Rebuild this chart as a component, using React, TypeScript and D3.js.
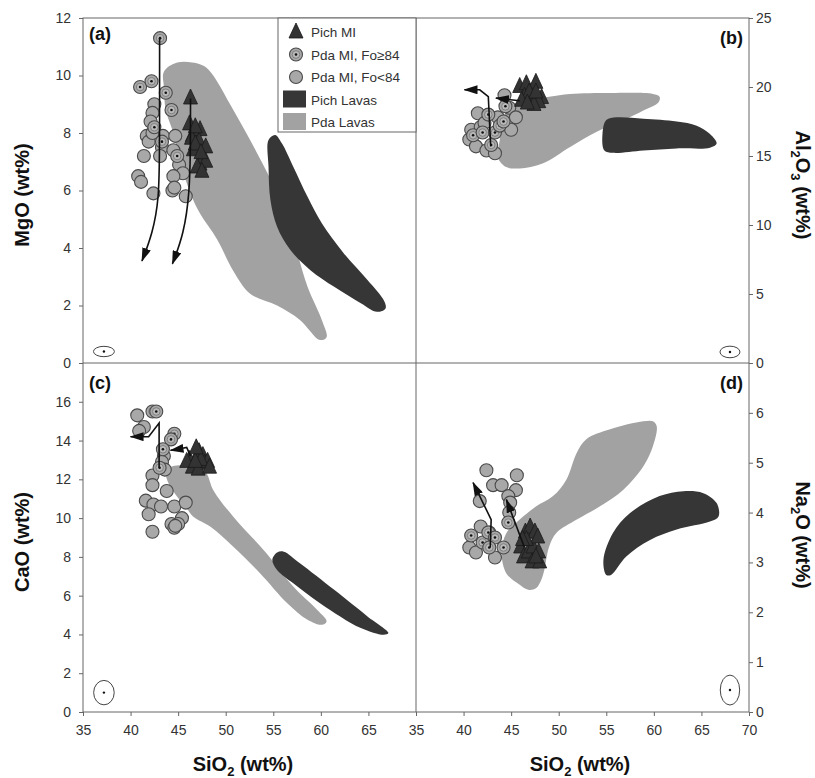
import React, { useRef, useEffect } from "react";
import * as d3 from "d3";

type Pt = [number, number];

// ---- tick values ----
const sioTicksLeft = [35, 40, 45, 50, 55, 60, 65];
const sioTicksRight = [35, 40, 45, 50, 55, 60, 65, 70];
const mgoTicks = [0, 2, 4, 6, 8, 10, 12];
const alTicks = [0, 5, 10, 15, 20, 25];
const caTicks = [0, 2, 4, 6, 8, 10, 12, 14, 16];
const naTicks = [0, 1, 2, 3, 4, 5, 6];

// ---- legend ----
const legendLabels = ["Pich MI", "Pda MI, Fo≥84", "Pda MI, Fo<84", "Pich Lavas", "Pda Lavas"];

// ---- (a) SiO2 vs MgO ----
const mgoPdaHi: Pt[] = [[43.1, 11.3], [41.0, 9.6], [42.2, 9.8], [43.7, 9.4], [44.3, 8.8], [42.5, 8.2], [43.3, 7.7], [44.9, 7.2]];
const mgoPdaLo: Pt[] = [
  [42.5, 9.0], [42.3, 8.7], [42.1, 8.4], [41.7, 7.9], [41.9, 7.7], [41.4, 7.2], [40.8, 6.5], [41.1, 6.3],
  [42.4, 5.9], [43.4, 7.9], [43.3, 7.5], [43.1, 7.2], [44.7, 7.9], [44.5, 7.4], [45.1, 6.9], [45.5, 6.6],
  [44.5, 6.5], [44.4, 6.0], [44.6, 6.1], [45.8, 5.8], [42.3, 8.0],
];
const mgoPich: Pt[] = [
  [46.3, 9.2], [46.2, 8.3], [46.5, 7.9], [47.3, 8.1], [47.2, 7.7], [47.9, 7.5], [47.6, 7.1], [46.6, 7.4],
  [47.3, 6.9], [47.9, 7.0], [47.0, 6.8], [47.5, 6.65], [46.4, 7.8], [46.8, 7.6], [47.4, 7.3], [46.8, 8.2],
];
const pdaLavaA: Pt[] = [
  [43.5, 10.13], [44.9, 10.45], [47.2, 10.4], [48.2, 10.2], [50.8, 8.8], [53.3, 7.3], [55.4, 5.9], [57.1, 4.3],
  [58.6, 2.65], [60.1, 1.5], [60.6, 0.9], [59.9, 0.8], [57.8, 1.5], [55.4, 2.0], [52.6, 2.4], [50.8, 3.2],
  [49.1, 4.3], [47.3, 5.2], [46.3, 5.9], [45.4, 6.8], [44.5, 8.0], [43.7, 8.8], [43.5, 9.6],
];
const pichLavaA: Pt[] = [
  [54.5, 7.76], [55.2, 7.93], [55.9, 7.64], [57.1, 6.83], [58.6, 5.78], [60.1, 4.86], [62.4, 3.82], [64.9, 2.89],
  [66.6, 2.19], [66.8, 1.9], [65.9, 1.78], [64.2, 2.08], [61.4, 2.65], [58.9, 3.23], [56.8, 3.93], [55.4, 4.74],
  [54.7, 5.67], [54.5, 6.83],
];
const arrowA1: Pt[] = [[43.05, 11.3], [43.05, 7.5], [43.0, 5.7], [42.3, 4.5], [41.2, 3.55]];
const arrowA2: Pt[] = [[46.3, 9.2], [46.3, 7.5], [46.2, 5.9], [45.6, 4.5], [44.4, 3.45]];

// ---- (b) SiO2 vs Al2O3 ----
const alPdaHi: Pt[] = [[41.0, 16.5], [42.0, 16.7], [42.6, 18.0], [43.3, 16.7], [43.8, 17.2], [44.2, 17.5], [42.9, 15.8], [44.4, 18.6]];
const alPdaLo: Pt[] = [
  [40.6, 16.2], [40.8, 16.9], [41.5, 18.1], [41.3, 15.7], [42.4, 15.4], [43.3, 15.2], [43.6, 17.8],
  [44.3, 19.4], [44.8, 18.5], [45.5, 17.8], [45.0, 16.9], [41.8, 17.1], [42.2, 17.4],
];
const alPich: Pt[] = [
  [45.9, 20.0], [46.6, 20.2], [47.6, 20.3], [48.2, 19.2], [47.1, 19.0], [46.4, 19.3], [47.9, 18.9], [47.4, 18.7],
  [46.9, 19.6], [46.1, 19.0], [47.6, 19.6], [46.7, 18.8],
];
const pdaLavaB: Pt[] = [
  [43.6, 14.9], [44.5, 14.2], [45.9, 14.1], [48.3, 14.46], [51.2, 15.66], [54.0, 16.75], [56.8, 17.6],
  [58.9, 18.3], [60.5, 18.9], [60.6, 19.3], [59.9, 19.5], [55.4, 19.57], [51.2, 19.5], [49.0, 19.3],
  [46.2, 19.0], [44.8, 18.55], [44.1, 17.6], [43.8, 16.15],
];
const pichLavaB: Pt[] = [
  [55.0, 17.6], [56.1, 17.8], [58.9, 17.7], [62.4, 17.5], [64.5, 17.2], [65.9, 16.6], [66.6, 15.9], [65.9, 15.6],
  [62.4, 15.55], [58.9, 15.4], [55.7, 15.23], [54.8, 15.4], [54.6, 16.6],
];
const arrowB1: Pt[] = [[42.85, 15.7], [42.6, 19.3], [41.7, 19.8], [40.1, 19.8]];
const arrowB2: Pt[] = [[45.9, 19.0], [43.4, 19.2]];

// ---- (c) SiO2 vs CaO ----
const caPdaHi: Pt[] = [[42.3, 15.5], [42.7, 15.5], [44.6, 14.35], [44.25, 14.06], [43.4, 13.55], [43.05, 12.6]];
const caPdaLo: Pt[] = [
  [40.7, 15.3], [41.4, 14.7], [40.9, 14.5], [43.5, 13.2], [43.3, 12.9], [43.6, 12.5], [42.3, 12.2], [42.3, 11.7],
  [43.8, 11.4], [41.6, 10.9], [42.4, 10.7], [43.2, 10.6], [44.6, 10.6], [45.8, 10.8], [41.9, 10.2], [45.4, 10.0],
  [44.3, 9.7], [44.6, 9.5], [45.0, 9.7], [42.3, 9.3], [44.7, 9.6],
];
const caPich: Pt[] = [
  [47.2, 13.4], [47.6, 13.2], [46.2, 13.0], [47.8, 12.8], [46.5, 12.6], [47.1, 12.5], [48.1, 12.9], [45.9, 12.9],
  [47.4, 13.0], [48.3, 12.6], [46.8, 12.9], [46.9, 13.6],
];
const pdaLavaC: Pt[] = [
  [43.7, 12.4], [44.2, 12.64], [45.9, 12.72], [47.3, 12.64], [48.0, 12.3], [48.7, 11.44], [50.8, 10.07],
  [54.3, 8.18], [57.1, 6.47], [59.6, 5.27], [60.6, 4.67], [60.1, 4.5], [58.6, 4.76], [56.5, 5.6], [53.6, 7.16],
  [50.8, 8.52], [48.4, 9.55], [46.6, 10.07], [45.8, 10.58], [44.9, 11.1], [44.0, 11.78],
];
const pichLavaC: Pt[] = [
  [55.4, 8.22], [56.1, 8.27], [57.8, 7.67], [61.4, 6.3], [64.9, 4.93], [67.1, 4.07], [66.6, 3.98], [64.2, 4.33],
  [59.95, 5.6], [57.1, 6.64], [55.4, 7.33], [54.9, 7.84],
];
const arrowC1: Pt[] = [[43.0, 12.6], [43.0, 14.9], [41.9, 14.2], [40.0, 14.2]];
const arrowC2: Pt[] = [[46.3, 13.2], [45.9, 13.65], [44.9, 13.55], [44.2, 13.5]];

// ---- (d) SiO2 vs Na2O ----
const naPdaHi: Pt[] = [[40.8, 3.54], [42.0, 3.4], [42.6, 3.6], [43.3, 3.5], [44.2, 3.3], [44.7, 3.8], [42.7, 3.3]];
const naPdaLo: Pt[] = [
  [42.4, 4.85], [45.6, 4.75], [43.1, 4.55], [44.0, 4.55], [45.5, 4.45], [44.7, 4.33], [44.9, 4.2], [41.7, 4.23],
  [44.8, 4.0], [41.8, 3.72], [40.6, 3.3], [41.3, 3.2], [43.3, 3.1], [42.7, 3.6],
];
const naPich: Pt[] = [
  [46.0, 3.3], [46.5, 3.6], [47.0, 3.7], [47.5, 3.6], [46.3, 3.1], [46.8, 3.2], [47.3, 3.3], [47.8, 3.5],
  [46.6, 3.45], [47.2, 3.0], [48.0, 3.0], [47.9, 3.2], [46.2, 3.45], [47.6, 3.1],
];
const pdaLavaD: Pt[] = [
  [44.5, 2.78], [45.9, 2.55], [46.8, 2.45], [47.6, 2.48], [48.3, 2.72], [49.0, 3.32], [49.75, 3.59], [51.9, 3.86],
  [54.3, 4.12], [56.8, 4.46], [58.9, 4.93], [59.9, 5.33], [60.3, 5.73], [59.9, 5.83], [58.9, 5.83], [55.4, 5.67],
  [52.9, 5.47], [51.9, 5.2], [50.8, 4.66], [49.4, 4.33], [47.6, 4.12], [45.9, 3.86], [44.5, 3.59], [44.0, 3.19],
];
const pichLavaD: Pt[] = [
  [54.7, 3.05], [55.0, 2.75], [55.5, 2.75], [57.1, 3.12], [59.6, 3.45], [62.4, 3.66], [65.9, 3.82], [66.8, 3.92],
  [66.6, 4.19], [65.2, 4.39], [63.1, 4.43], [60.6, 4.33], [57.5, 3.99], [55.7, 3.59],
];
const arrowD1: Pt[] = [[42.8, 3.3], [42.9, 3.86], [41.0, 4.6]];
const arrowD2: Pt[] = [[46.4, 3.3], [44.5, 4.26]];

// analytical uncertainty ellipses: [SiO2, oxide, ±SiO2, ±oxide]
const errA = [37.2, 0.4, 1.1, 0.18];
const errB = [68.0, 0.8, 1.05, 0.42];
const errC = [37.2, 1.0, 1.08, 0.63];
const errD = [68.0, 0.44, 1.02, 0.3];

const FONT = "Arial, 'Liberation Sans', sans-serif";
const PDA = "#a2a2a2";
const PICH = "#363636";

const App: React.FC = () => {
  const svgRef = useRef<SVGSVGElement>(null);

  useEffect(() => {
    const svg = d3.select(svgRef.current);
    svg.selectAll("*").remove();

    const X0 = 83, XM = 416, X1 = 749, Y0 = 18, YM = 363, Y1 = 712;

    const xL = d3.scaleLinear().domain([35, 70]).range([X0, XM]);
    const xR = d3.scaleLinear().domain([35, 70]).range([XM, X1]);
    const yMg = d3.scaleLinear().domain([0, 12]).range([YM, Y0]);
    const yAl = d3.scaleLinear().domain([0, 25]).range([YM, Y0]);
    const yCa = d3.scaleLinear().domain([0, 18]).range([Y1, YM]);
    const yNa = d3.scaleLinear().domain([0, 7]).range([Y1, YM]);

    const defs = svg.append("defs");
    defs
      .append("marker")
      .attr("id", "arrowhead")
      .attr("viewBox", "0 0 14 9")
      .attr("refX", 13)
      .attr("refY", 4.5)
      .attr("markerWidth", 14)
      .attr("markerHeight", 9)
      .attr("markerUnits", "userSpaceOnUse")
      .attr("orient", "auto")
      .append("path")
      .attr("d", "M0,0 L14,4.5 L0,9 Z")
      .attr("fill", "#111");

    const triPath = "M0,-9.5 L7,5.5 L-7,5.5 Z";

    const panels = [
      { x: xL, y: yMg, pda: pdaLavaA, pich: pichLavaA, lo: mgoPdaLo, hi: mgoPdaHi, tri: mgoPich, arrows: [arrowA1, arrowA2], curved: true, err: errA },
      { x: xR, y: yAl, pda: pdaLavaB, pich: pichLavaB, lo: alPdaLo, hi: alPdaHi, tri: alPich, arrows: [arrowB1, arrowB2], curved: false, err: errB },
      { x: xL, y: yCa, pda: pdaLavaC, pich: pichLavaC, lo: caPdaLo, hi: caPdaHi, tri: caPich, arrows: [arrowC1, arrowC2], curved: false, err: errC },
      { x: xR, y: yNa, pda: pdaLavaD, pich: pichLavaD, lo: naPdaLo, hi: naPdaHi, tri: naPich, arrows: [arrowD1, arrowD2], curved: false, err: errD },
    ];

    panels.forEach((p) => {
      const g = svg.append("g");
      const blob = d3
        .line<Pt>()
        .x((d) => p.x(d[0]))
        .y((d) => p.y(d[1]))
        .curve(d3.curveCatmullRomClosed.alpha(0.5));
      g.append("path").attr("d", blob(p.pda)).attr("fill", PDA);
      g.append("path").attr("d", blob(p.pich)).attr("fill", PICH);

      // Fo<84 melt inclusions
      g.selectAll(null)
        .data(p.lo)
        .join("circle")
        .attr("cx", (d) => p.x(d[0]))
        .attr("cy", (d) => p.y(d[1]))
        .attr("r", 6.5)
        .attr("fill", "#a8a8a8")
        .attr("stroke", "#4a4a4a")
        .attr("stroke-width", 1.1);

      // Fo>=84 melt inclusions
      const hi = g
        .selectAll(null)
        .data(p.hi)
        .join("g")
        .attr("transform", (d) => `translate(${p.x(d[0])},${p.y(d[1])})`);
      hi.append("circle").attr("r", 6.5).attr("fill", "#a8a8a8").attr("stroke", "#4a4a4a").attr("stroke-width", 1.1);
      hi.append("circle").attr("r", 3.8).attr("fill", "#b9b9b9").attr("stroke", "#7a7a7a").attr("stroke-width", 0.9);
      hi.append("circle").attr("r", 1.3).attr("fill", "#111");

      // Pich melt inclusions
      g.selectAll(null)
        .data(p.tri)
        .join("path")
        .attr("transform", (d) => `translate(${p.x(d[0])},${p.y(d[1])})`)
        .attr("d", triPath)
        .attr("fill", "#333")
        .attr("stroke", "#1a1a1a")
        .attr("stroke-width", 0.8);

      // trends
      const trend = d3
        .line<Pt>()
        .x((d) => p.x(d[0]))
        .y((d) => p.y(d[1]))
        .curve(p.curved ? d3.curveBasis : d3.curveLinear);
      p.arrows.forEach((a) => {
        g.append("path")
          .attr("d", trend(a))
          .attr("fill", "none")
          .attr("stroke", "#111")
          .attr("stroke-width", 1.6)
          .attr("marker-end", "url(#arrowhead)");
      });

      // uncertainty ellipse
      const [ex, ey, edx, edy] = p.err;
      const cx = p.x(ex), cy = p.y(ey);
      g.append("ellipse")
        .attr("cx", cx)
        .attr("cy", cy)
        .attr("rx", Math.abs(p.x(ex + edx) - cx))
        .attr("ry", Math.abs(p.y(ey + edy) - cy))
        .attr("fill", "none")
        .attr("stroke", "#444")
        .attr("stroke-width", 1);
      g.append("circle").attr("cx", cx).attr("cy", cy).attr("r", 1.2).attr("fill", "#111");
    });

    // frame
    const frame = svg.append("g").attr("stroke", "#666").attr("stroke-width", 1).attr("fill", "none");
    frame.append("rect").attr("x", X0).attr("y", Y0).attr("width", X1 - X0).attr("height", Y1 - Y0);
    frame.append("line").attr("x1", XM).attr("x2", XM).attr("y1", Y0).attr("y2", Y1);
    frame.append("line").attr("x1", X0).attr("x2", X1).attr("y1", YM).attr("y2", YM);

    // axes
    const styleAxis = (ag: d3.Selection<SVGGElement, unknown, null, undefined>) => {
      ag.select(".domain").remove();
      ag.selectAll("line").attr("stroke", "#666");
      ag.selectAll("text").attr("fill", "#333").style("font-size", "14px").style("font-family", FONT);
    };
    const addAxis = (axis: d3.Axis<d3.NumberValue>, tx: number, ty: number) => {
      const ag = svg.append("g").attr("transform", `translate(${tx},${ty})`).call(axis as any);
      styleAxis(ag as any);
    };
    addAxis(d3.axisLeft(yMg).tickValues(mgoTicks).tickSize(4).tickPadding(8).tickFormat(d3.format("d")), X0, 0);
    addAxis(d3.axisLeft(yCa).tickValues(caTicks).tickSize(4).tickPadding(8).tickFormat(d3.format("d")), X0, 0);
    addAxis(d3.axisRight(yAl).tickValues(alTicks).tickSize(4).tickPadding(3).tickFormat(d3.format("d")), X1, 0);
    addAxis(d3.axisRight(yNa).tickValues(naTicks).tickSize(4).tickPadding(3).tickFormat(d3.format("d")), X1, 0);
    addAxis(d3.axisBottom(xL).tickValues(sioTicksLeft).tickSize(4).tickPadding(9).tickFormat(d3.format("d")), 0, Y1);
    addAxis(d3.axisBottom(xR).tickValues(sioTicksRight).tickSize(4).tickPadding(9).tickFormat(d3.format("d")), 0, Y1);

    // axis titles
    const title = (x: number, y: number, rot: number, parts: [string, boolean][]) => {
      const t = svg
        .append("text")
        .attr("transform", `translate(${x},${y}) rotate(${rot})`)
        .attr("text-anchor", "middle")
        .attr("font-family", FONT)
        .attr("font-weight", "bold")
        .attr("font-size", 20)
        .attr("fill", "#111");
      let sub = false;
      parts.forEach(([s, isSub]) => {
        const ts = t.append("tspan").text(s);
        if (isSub && !sub) ts.attr("dy", 5).attr("font-size", 13);
        if (isSub && sub) ts.attr("font-size", 13);
        if (!isSub && sub) ts.attr("dy", -5);
        sub = isSub;
      });
    };
    title(29, 195, -90, [["MgO (wt%)", false]]);
    title(29, 542, -90, [["CaO (wt%)", false]]);
    title(796, 185, 90, [["Al", false], ["2", true], ["O", false], ["3", true], [" (wt%)", false]]);
    title(796, 535, 90, [["Na", false], ["2", true], ["O (wt%)", false]]);
    title(243, 771, 0, [["SiO", false], ["2", true], [" (wt%)", false]]);
    title(580, 771, 0, [["SiO", false], ["2", true], [" (wt%)", false]]);

    // panel letters
    const letter = (x: number, y: number, anchor: string, s: string) =>
      svg
        .append("text")
        .attr("x", x)
        .attr("y", y)
        .attr("text-anchor", anchor)
        .attr("font-family", FONT)
        .attr("font-weight", "bold")
        .attr("font-size", 18)
        .attr("fill", "#111")
        .text(s);
    letter(89, 40, "start", "(a)");
    letter(743, 44, "end", "(b)");
    letter(89, 389, "start", "(c)");
    letter(743, 389, "end", "(d)");

    // legend
    const lg = svg.append("g").attr("transform", "translate(278,18)");
    lg.append("rect").attr("width", XM - 278).attr("height", 114).attr("fill", "#fff").attr("stroke", "#666");
    const rowY = [13.5, 36.5, 59, 81.5, 104];
    lg.append("path").attr("transform", `translate(18,${rowY[0] + 1})`).attr("d", triPath).attr("fill", "#333").attr("stroke", "#1a1a1a").attr("stroke-width", 0.8);
    const lh = lg.append("g").attr("transform", `translate(18,${rowY[1]})`);
    lh.append("circle").attr("r", 6.5).attr("fill", "#a8a8a8").attr("stroke", "#4a4a4a").attr("stroke-width", 1.1);
    lh.append("circle").attr("r", 3.8).attr("fill", "#b9b9b9").attr("stroke", "#7a7a7a").attr("stroke-width", 0.9);
    lh.append("circle").attr("r", 1.3).attr("fill", "#111");
    lg.append("circle").attr("cx", 18).attr("cy", rowY[2]).attr("r", 6.5).attr("fill", "#a8a8a8").attr("stroke", "#4a4a4a").attr("stroke-width", 1.1);
    lg.append("rect").attr("x", 5).attr("y", rowY[3] - 9).attr("width", 23).attr("height", 17).attr("fill", PICH);
    lg.append("rect").attr("x", 5).attr("y", rowY[4] - 9).attr("width", 23).attr("height", 17).attr("fill", PDA);
    legendLabels.forEach((s, i) => {
      lg.append("text")
        .attr("x", 33)
        .attr("y", rowY[i] + 5)
        .attr("font-family", FONT)
        .attr("font-size", 13.5)
        .attr("fill", "#333")
        .text(s);
    });
  }, []);

  return (
    <svg
      ref={svgRef}
      width={815}
      height={778}
      viewBox="0 0 815 778"
      style={{ position: "absolute", left: 0, top: 0, background: "#fff" }}
    />
  );
};

export default App;
